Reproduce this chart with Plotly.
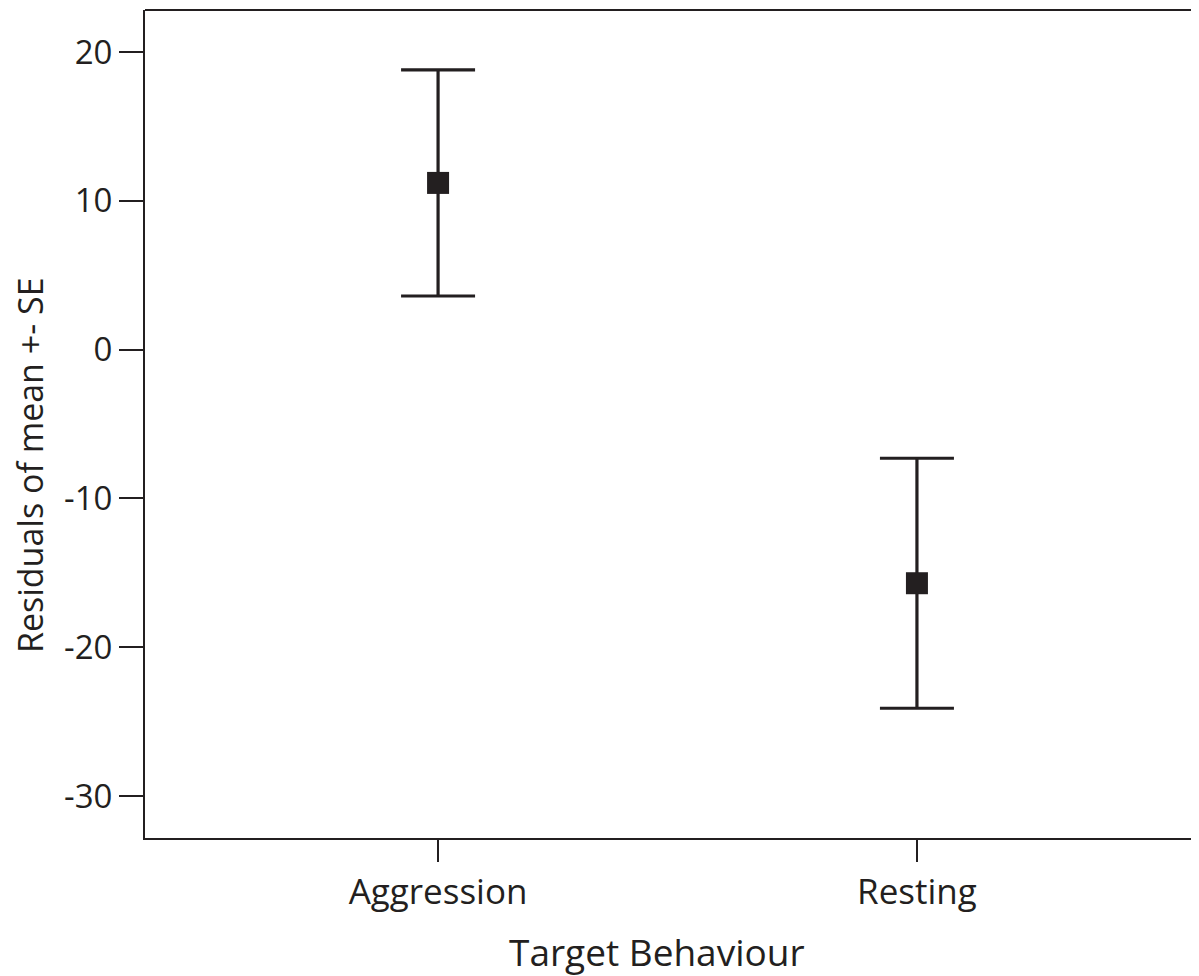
import plotly.graph_objects as go

categories = ["Aggression", "Resting"]
means = [11.2, -15.7]
upper = [18.8, -7.3]
lower = [3.6, -24.1]
y_ticks = [20, 10, 0, -10, -20, -30]
y_tick_text = ["20", "10", "0", "-10", "-20", "-30"]

err_plus = [u - m for u, m in zip(upper, means)]
err_minus = [m - l for m, l in zip(means, lower)]

ink = "#231f20"
fig = go.Figure()
fig.add_trace(go.Scatter(
    x=list(range(len(categories))), y=means, mode="markers",
    marker=dict(symbol="square", size=22, color=ink),
    error_y=dict(type="data", symmetric=False, array=err_plus, arrayminus=err_minus,
                 color=ink, thickness=3.2, width=37),
    showlegend=False,
))

font = "Open Sans, DejaVu Sans, sans-serif"
fig.update_layout(
    width=1191, height=968,
    margin=dict(l=137, r=0, t=2, b=138),
    plot_bgcolor="white", paper_bgcolor="white",
    font=dict(family=font, color=ink),
    xaxis=dict(
        range=[-0.612, 1.589], tickmode="array", tickvals=[0, 1], ticktext=categories,
        showline=True, linecolor=ink, linewidth=2, mirror=False,
        ticks="outside", ticklen=22, tickwidth=2, tickcolor=ink,
        showgrid=False, zeroline=False, tickfont=dict(size=35, color=ink),
    ),
    yaxis=dict(
        range=[-32.82, 22.82], tickmode="array", tickvals=y_ticks, ticktext=y_tick_text,
        showline=True, linecolor=ink, linewidth=2,
        ticks="outside", ticklen=24, tickwidth=2, tickcolor=ink,
        showgrid=False, zeroline=False, tickfont=dict(size=33, color=ink),
    ),
    shapes=[dict(type="line", xref="paper", yref="paper", x0=0, x1=1, y0=1, y1=1,
                 line=dict(color=ink, width=2))],
    annotations=[
        dict(text="Target Behaviour", xref="paper", yref="paper", x=0.4858, y=-0.1365,
             xanchor="center", yanchor="middle", showarrow=False, borderpad=0,
             font=dict(size=37, color=ink, family=font)),
        dict(text="Residuals of mean +- SE", xref="paper", yref="paper", x=-0.109, y=0.4505,
             xanchor="center", yanchor="middle", textangle=-90, showarrow=False, borderpad=0,
             font=dict(size=34, color=ink, family=font)),
    ],
)

fig.write_html("out.html")
